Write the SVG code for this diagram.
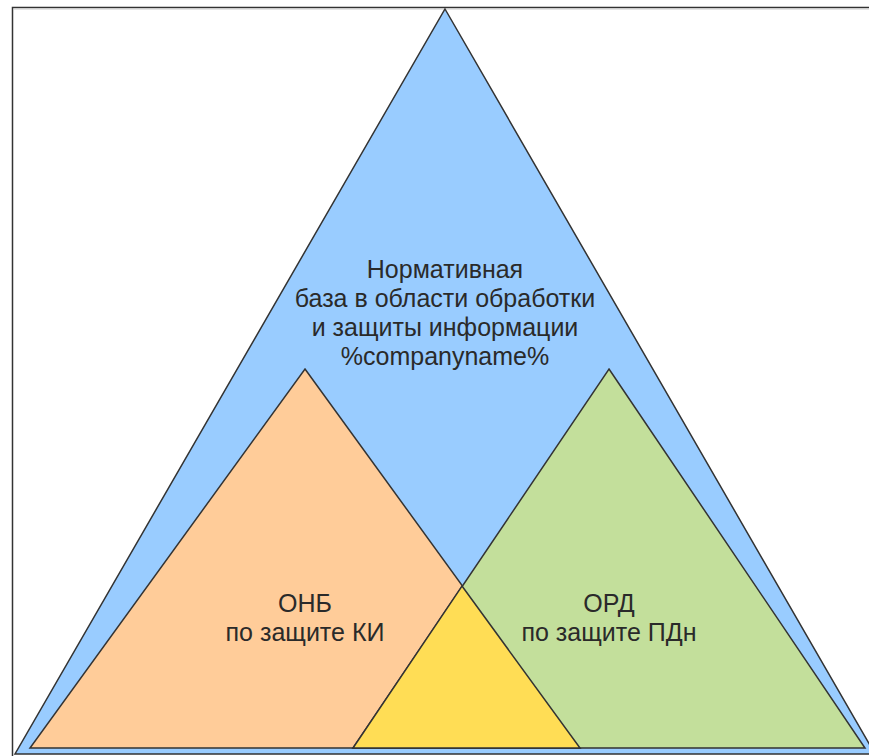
<svg xmlns="http://www.w3.org/2000/svg" width="869" height="756" viewBox="0 0 869 756">
<style>
.tri{stroke:#333;stroke-width:1.5;stroke-linejoin:miter}
.lbl{font-family:"Liberation Sans",Arial,sans-serif;font-size:25px;fill:#2a2a2a;text-anchor:middle}
</style>
<rect width="869" height="756" fill="#fff"/>
<path d="M12.5,756 V7.5 H869" fill="none" stroke="#333" stroke-width="1.5"/>
<path d="M13.5,756 V9 H869" fill="none" stroke="#ccc" stroke-width="1"/>
<g id="base">
<polygon class="tri" points="445,9 875,754 15,754" fill="#99CCFF"/>
<text class="lbl" x="445" y="278">Нормативная</text>
<text class="lbl" x="445" y="307">база в области обработки</text>
<text class="lbl" x="445" y="336">и защиты информации</text>
<text class="lbl" x="445" y="365">%companyname%</text>
</g>
<g id="onb">
<polygon class="tri" points="305,369 580,748 30,748" fill="#FFCC99"/>
<text class="lbl" x="305" y="612">ОНБ</text>
<text class="lbl" x="305" y="641">по защите КИ</text>
</g>
<g id="ord">
<polygon class="tri" points="609,369 865,748 353,748" fill="#C3DF9B"/>
<text class="lbl" x="609" y="612">ОРД</text>
<text class="lbl" x="609" y="641">по защите ПДн</text>
</g>
<g id="overlap">
<polygon class="tri" points="462,586 580,748 353,748" fill="#FFDD55"/>
</g>
</svg>
